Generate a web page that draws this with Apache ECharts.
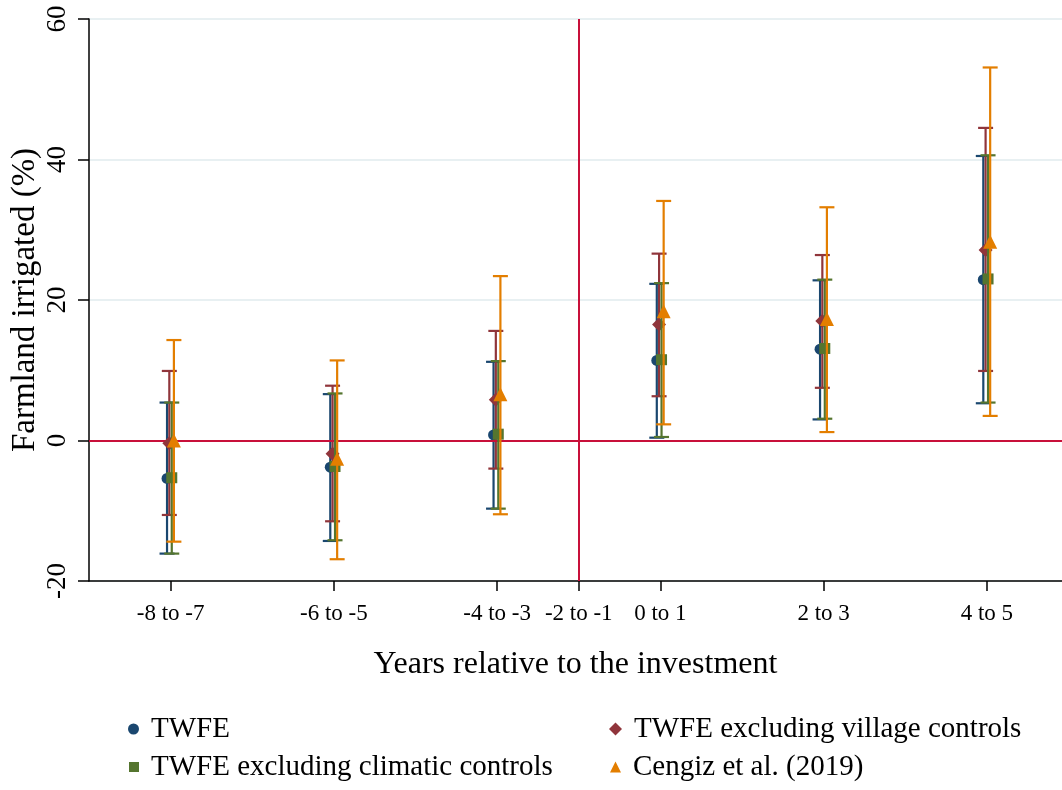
<!DOCTYPE html>
<html>
<head>
<meta charset="utf-8">
<script src="https://cdn.jsdelivr.net/npm/echarts@6/dist/echarts.min.js"></script>
<style>
  html,body{margin:0;padding:0;background:#fff}
  #chart{width:1062px;height:790px}
</style>
</head>
<body>
<div id="chart"></div>
<script>
// x tick labels and their positions on the axis
var tickLabels = ['-8 to -7', '-6 to -5', '-4 to -3', '-2 to -1', '0 to 1', '2 to 3', '4 to 5'];
var tickPos = [1, 2, 3, 3.5, 4, 5, 6];
// positions of the estimated periods (reference period -2 to -1 omitted)
var periodPos = [1, 2, 3, 4, 5, 6];
var refPos = 3.5;

var twfeEst = [-5.4, -3.8, 0.8, 11.4, 13.0, 22.9];
var twfeLo  = [-16.1, -14.3, -9.7, 0.4, 3.0, 5.3];
var twfeHi  = [5.4, 6.6, 11.2, 22.3, 22.8, 40.5];

var villEst = [-0.4, -1.9, 5.8, 16.5, 17.0, 27.1];
var villLo  = [-10.6, -11.5, -4.0, 6.3, 7.5, 9.9];
var villHi  = [9.9, 7.8, 15.6, 26.6, 26.4, 44.5];

var climEst = [-5.3, -3.7, 0.9, 11.5, 13.1, 23.0];
var climLo  = [-16.1, -14.2, -9.7, 0.5, 3.1, 5.4];
var climHi  = [5.4, 6.7, 11.3, 22.4, 22.9, 40.6];

var cengEst = [0.0, -2.6, 6.6, 18.4, 17.3, 28.3];
var cengLo  = [-14.4, -16.9, -10.5, 2.3, 1.2, 3.5];
var cengHi  = [14.3, 11.4, 23.4, 34.1, 33.2, 53.1];

var FONT = '"Liberation Serif", "Times New Roman", serif';

var groups = [
  {name:'TWFE', est:twfeEst, lo:twfeLo, hi:twfeHi, color:'#1a476f', symbol:'circle', size:11, off:-0.022,
   lg:{left:123, top:708, w:11}},
  {name:'TWFE excluding village controls', est:villEst, lo:villLo, hi:villHi, color:'#90353b', symbol:'diamond', size:14, off:-0.008,
   lg:{left:604, top:708, w:13}},
  {name:'TWFE excluding climatic controls', est:climEst, lo:climLo, hi:climHi, color:'#55752f', symbol:'rect', size:11, off:0.007,
   lg:{left:124, top:746, w:10}},
  {name:'Cengiz et al. (2019)', est:cengEst, lo:cengLo, hi:cengHi, color:'#e37e00', symbol:'triangle', size:14, off:0.02,
   lg:{left:605, top:746, w:11}}
];

function ciRender(color){
  return function(params, api){
    var x = api.value(0);
    var top = api.coord([x, api.value(2)]);
    var bot = api.coord([x, api.value(1)]);
    var w = 7.5;
    var st = {stroke: color, lineWidth: 2.2};
    return {type:'group', children:[
      {type:'line', shape:{x1:top[0], y1:top[1], x2:bot[0], y2:bot[1]}, style:st},
      {type:'line', shape:{x1:top[0]-w, y1:top[1], x2:top[0]+w, y2:top[1]}, style:st},
      {type:'line', shape:{x1:bot[0]-w, y1:bot[1], x2:bot[0]+w, y2:bot[1]}, style:st}
    ]};
  };
}

var series = [];
// reference lines
series.push({
  type:'line', name:'ref', data:[], silent:true, z:1,
  markLine:{
    silent:true, symbol:'none', animation:false,
    label:{show:false},
    lineStyle:{color:'#c8103a', width:2, type:'solid'},
    data:[{yAxis:0}, {xAxis:refPos}]
  }
});
groups.forEach(function(g, k){
  series.push({
    type:'custom', name:g.name + ' ci', z:2 + k*2,
    renderItem: ciRender(g.color),
    data: periodPos.map(function(p, i){ return [p + g.off, g.lo[i], g.hi[i]]; }),
    encode:{x:0, y:[1,2]},
    silent:true, animation:false
  });
  series.push({
    type:'scatter', name:g.name, z:3 + k*2,
    symbol:g.symbol, symbolSize:g.size,
    itemStyle:{color:g.color, opacity:1},
    data: periodPos.map(function(p, i){ return [p + g.off, g.est[i]]; }),
    animation:false
  });
});

// one legend block per entry, laid out in two columns as in the original
var legends = groups.map(function(g){
  return {
    data:[g.name], left:g.lg.left, top:g.lg.top,
    itemWidth:g.lg.w, itemHeight:g.lg.w, selectedMode:false,
    textStyle:{fontFamily:FONT, fontSize:29, color:'#000', padding:[0,0,0,7], lineHeight:32}
  };
});

var chart = echarts.init(document.getElementById('chart'));
chart.setOption({
  backgroundColor:'#fff',
  animation:false,
  grid:{left:89, right:0, top:19, bottom:209, containLabel:false, outerBoundsMode:'none'},
  xAxis:{
    type:'value', min:0.5, max:6.46,
    name:'Years relative to the investment',
    nameLocation:'middle', nameGap:68, nameMoveOverlap:false,
    nameTextStyle:{fontFamily:FONT, fontSize:32, color:'#000'},
    axisLine:{show:true, onZero:false, lineStyle:{color:'#000', width:1.5}},
    axisTick:{show:true, length:10, customValues:tickPos, lineStyle:{color:'#000', width:1.5}},
    axisLabel:{
      customValues:tickPos, margin:21,
      fontFamily:FONT, fontSize:23, color:'#000',
      formatter:function(v){ var i = tickPos.indexOf(v); return i >= 0 ? tickLabels[i] : ''; }
    },
    splitLine:{show:false}
  },
  yAxis:{
    type:'value', min:-20, max:60, interval:20,
    name:'Farmland irrigated (%)',
    nameLocation:'middle', nameGap:47, nameMoveOverlap:false,
    nameTextStyle:{fontFamily:FONT, fontSize:33, color:'#000'},
    axisLine:{show:true, lineStyle:{color:'#000', width:1.5}},
    axisTick:{show:true, length:11, lineStyle:{color:'#000', width:1.5}},
    axisLabel:{rotate:90, margin:18, fontFamily:FONT, fontSize:27, color:'#000'},
    splitLine:{show:true, lineStyle:{color:'#e8f0f2', width:2}}
  },
  legend:legends,
  series:series
});
</script>
</body>
</html>
